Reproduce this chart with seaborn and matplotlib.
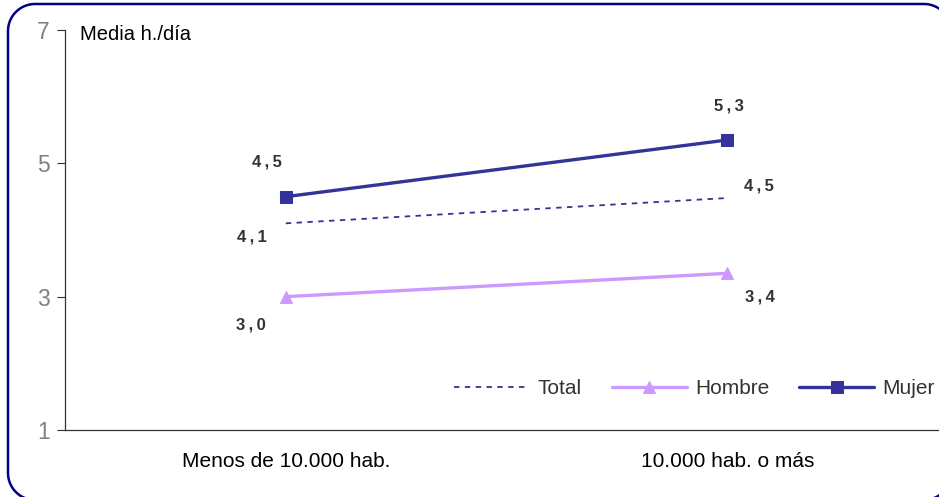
import matplotlib
matplotlib.use("Agg")
import matplotlib.pyplot as plt
from matplotlib.path import Path
from matplotlib.patches import PathPatch
import numpy as np
import seaborn as sns
import pandas as pd

categories = ["Menos de 10.000 hab.", "10.000 hab. o más"]
total = [4.1, 4.48]
hombre = [3.0, 3.35]
mujer = [4.5, 5.35]
total_labels = ["4,1", "4,5"]
hombre_labels = ["3,0", "3,4"]
mujer_labels = ["4,5", "5,3"]
y_ticks = [1, 3, 5, 7]

sns.set_style("white")
plt.rcParams["font.family"] = ["Liberation Sans", "DejaVu Sans"]

fig = plt.figure(figsize=(9.39, 4.97), dpi=100)
W, H = 939, 497

# decorative rounded frame, in pixel coordinates (y down)
bg = fig.add_axes([0, 0, 1, 1], zorder=-1)
bg.set_xlim(0, W)
bg.set_ylim(H, 0)
bg.axis("off")
x0, y0, x1, y1, r = 8, 4, 951, 500, 27
pts = []
for cx, cy, a0 in [(x1 - r, y0 + r, -90), (x1 - r, y1 - r, 0),
                   (x0 + r, y1 - r, 90), (x0 + r, y0 + r, 180)]:
    th = np.radians(np.linspace(a0, a0 + 90, 20))
    pts += list(zip(cx + r * np.cos(th), cy + r * np.sin(th)))
pts.append(pts[0])
bg.add_patch(PathPatch(Path(pts), fill=False, edgecolor="#00008B", lw=1.8, clip_on=False))

ax = fig.add_axes([65 / W, (H - 430) / H, (948 - 65) / W, 400 / H])
ax.patch.set_alpha(0)

dark = "#333399"
lav = "#CC99FF"

df_t = pd.DataFrame({"cat": categories, "v": total})
df_h = pd.DataFrame({"cat": categories, "v": hombre})
df_m = pd.DataFrame({"cat": categories, "v": mujer})

sns.lineplot(data=df_t, x="cat", y="v", ax=ax, color=dark, lw=1.3,
             linestyle=(0, (3, 3)), label="Total", sort=False)
sns.lineplot(data=df_h, x="cat", y="v", ax=ax, color=lav, lw=2.4,
             marker="^", markersize=9, markeredgecolor=lav, label="Hombre", sort=False)
sns.lineplot(data=df_m, x="cat", y="v", ax=ax, color=dark, lw=2.4,
             marker="s", markersize=8, markeredgecolor=dark, label="Mujer", sort=False)

ax.set_xlim(-0.5, 1.5)
ax.set_ylim(1, 7)
ax.set_yticks(y_ticks)
ax.set_yticklabels([str(t) for t in y_ticks])
ax.set_xticks([0, 1])
ax.set_xticklabels(categories)
ax.set_xticks([0.5], minor=True)
ax.tick_params(axis="x", which="major", length=0, labelsize=15, pad=16, colors="black")
ax.tick_params(axis="x", which="minor", length=5, width=0.8, direction="out", color="#333333")
ax.tick_params(axis="y", length=6, width=0.8, direction="out", labelsize=16.5,
               labelcolor="#808080", color="#333333", left=True, pad=5)
ax.set_xlabel("")
ax.set_ylabel("")
for s in ["top", "right"]:
    ax.spines[s].set_visible(False)
for s in ["left", "bottom"]:
    ax.spines[s].set_color("#333333")
    ax.spines[s].set_linewidth(0.9)

lab_kw = dict(textcoords="offset pixels", fontsize=12, fontweight="bold",
              color="#333333", ha="center", va="center")
offs_m = [(-19, 35), (2, 34)]
offs_t = [(-34, -14), (32, 12)]
offs_h = [(-35, -28), (33, -24)]
sp = lambda s: s.replace(",", "\u2009,\u2009")
for i in range(2):
    ax.annotate(sp(mujer_labels[i]), (i, mujer[i]), xytext=offs_m[i], **lab_kw)
    ax.annotate(sp(total_labels[i]), (i, total[i]), xytext=offs_t[i], **lab_kw)
    ax.annotate(sp(hombre_labels[i]), (i, hombre[i]), xytext=offs_h[i], **lab_kw)

ax.text(80 / W, 1 - 35 / H, "Media h./día", transform=fig.transFigure,
        fontsize=14.5, color="black", ha="left", va="center")

leg = ax.legend(loc="center right", bbox_to_anchor=(935 / W, (H - 389) / H),
                bbox_transform=fig.transFigure, ncol=3, frameon=False,
                fontsize=15, handlelength=3.6, columnspacing=1.45, handletextpad=0.4,
                borderaxespad=0, borderpad=0)
for t in leg.get_texts():
    t.set_color("#333333")

fig.savefig("out.png", dpi=100)
